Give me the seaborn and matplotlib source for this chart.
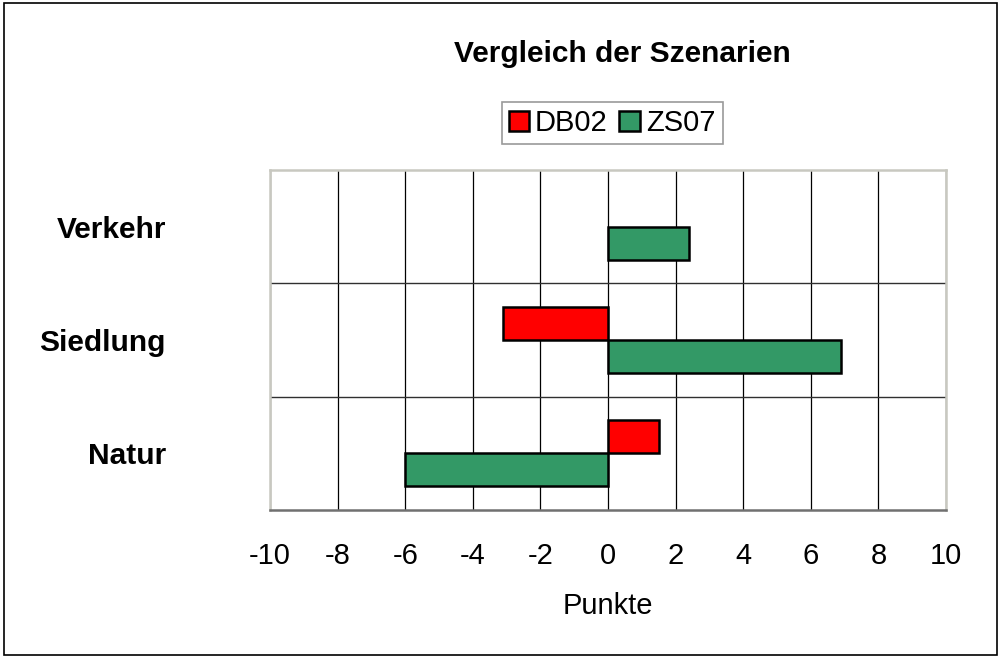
import matplotlib
matplotlib.use("Agg")
import matplotlib.pyplot as plt
import matplotlib.patches as mpatches
import seaborn as sns
import pandas as pd

categories = ["Verkehr", "Siedlung", "Natur"]
series_names = ["DB02", "ZS07"]
db02_values = [0.0, -3.1, 1.5]
zs07_values = [2.4, 6.9, -6.0]
x_ticks = [-10, -8, -6, -4, -2, 0, 2, 4, 6, 8, 10]
colors = {"DB02": "#FF0000", "ZS07": "#339966"}

rows = []
for cat, v in zip(categories, db02_values):
    rows.append({"Kategorie": cat, "Szenario": "DB02", "Punkte": v})
for cat, v in zip(categories, zs07_values):
    rows.append({"Kategorie": cat, "Szenario": "ZS07", "Punkte": v})
df = pd.DataFrame(rows)

sns.set_theme(style="white")
plt.rcParams["font.family"] = ["Liberation Sans", "DejaVu Sans"]
plt.rcParams["text.color"] = "black"
plt.rcParams["axes.labelcolor"] = "black"
plt.rcParams["xtick.color"] = "black"
plt.rcParams["ytick.color"] = "black"

fig = plt.figure(figsize=(10.01, 6.58), dpi=100)
ax = fig.add_axes([270 / 1001, 1 - 510 / 658, 676 / 1001, 340 / 658])

sns.barplot(data=df, y="Kategorie", x="Punkte", hue="Szenario", order=categories,
            hue_order=series_names, palette=colors, orient="h", width=0.58,
            edgecolor="black", linewidth=1.8, saturation=1, ax=ax, legend=False,
            errorbar=None, zorder=3)
for p in ax.patches:
    if abs(p.get_width()) < 1e-9:
        p.set_visible(False)

ax.set_xlim(-10, 10)
ax.set_ylim(2.5, -0.5)
ax.set_xticks(x_ticks)
ax.set_xticklabels([str(t) for t in x_ticks], fontsize=21, color="black")
ax.tick_params(axis="x", direction="out", length=6, width=1.2, color="#707070",
               labelcolor="black", pad=17)
ax.tick_params(axis="y", length=0, pad=75, labelcolor="black")
for lbl in ax.get_yticklabels():
    lbl.set_fontsize(21.5)
    lbl.set_fontweight("bold")

ax.grid(False)
for t in x_ticks:
    ax.axvline(t, color="black", linewidth=0.9, zorder=1)
for yb in [0.5, 1.5]:
    ax.axhline(yb, color="#303030", linewidth=1.0, zorder=1)

for side in ["top", "left", "right"]:
    ax.spines[side].set_color("#c8c8c0")
    ax.spines[side].set_linewidth(1.8)
ax.spines["bottom"].set_color("#707070")
ax.spines["bottom"].set_linewidth(1.8)

ax.set_ylabel("")
ax.set_xlabel("Punkte", fontsize=21, labelpad=16, color="black")

fig.text(622 / 1001, 1 - 54 / 658, "Vergleich der Szenarien", fontsize=21.5,
         fontweight="bold", ha="center", va="center", color="black")

handles = [mpatches.Patch(facecolor=colors[s], edgecolor="black", linewidth=1.8, label=s)
           for s in series_names]
leg = fig.legend(handles=handles, loc="center", bbox_to_anchor=(612 / 1001, 1 - 123 / 658),
                 ncol=2, fontsize=21, frameon=True, fancybox=False, handlelength=0.7,
                 handleheight=0.7, handletextpad=0.2, columnspacing=0.4,
                 borderpad=0.25, borderaxespad=0)
leg.get_frame().set_edgecolor("#808080")
leg.get_frame().set_linewidth(1.2)
for txt in leg.get_texts():
    txt.set_color("black")

fig.patches.append(mpatches.Rectangle((4 / 1001, 3 / 658), 993 / 1001, 652 / 658,
                                      transform=fig.transFigure, fill=False,
                                      edgecolor="black", linewidth=1.2))

fig.savefig("out.png", dpi=100)
